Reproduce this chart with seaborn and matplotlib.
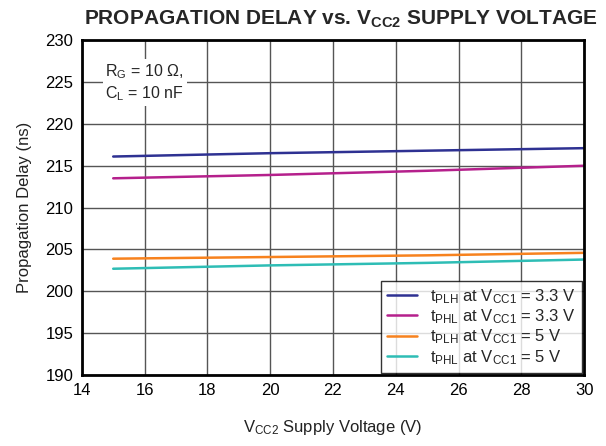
import matplotlib
matplotlib.use("Agg")
import matplotlib.pyplot as plt
import seaborn as sns
import pandas as pd

vcc2 = [15, 20, 25, 30]
tplh_33 = [216.1, 216.5, 216.8, 217.1]
tphl_33 = [213.5, 213.9, 214.4, 215.0]
tplh_5 = [203.9, 204.1, 204.3, 204.6]
tphl_5 = [202.7, 203.1, 203.4, 203.8]
labels = [r"t$_\mathregular{PLH}$ at V$_\mathregular{CC1}$ = 3.3 V",
          r"t$_\mathregular{PHL}$ at V$_\mathregular{CC1}$ = 3.3 V",
          r"t$_\mathregular{PLH}$ at V$_\mathregular{CC1}$ = 5 V",
          r"t$_\mathregular{PHL}$ at V$_\mathregular{CC1}$ = 5 V"]
colors = ["#2E3192", "#B5208C", "#F7821E", "#2EBDB5"]
xticks = [14, 16, 18, 20, 22, 24, 26, 28, 30]
yticks = [190, 195, 200, 205, 210, 215, 220, 225, 230]

rows = []
for lab, vals in zip(labels, [tplh_33, tphl_33, tplh_5, tphl_5]):
    for x, y in zip(vcc2, vals):
        rows.append({"x": x, "y": y, "series": lab})
df = pd.DataFrame(rows)

sns.set_theme(style="white")
plt.rcParams['font.family'] = ['Liberation Sans', 'DejaVu Sans']
plt.rcParams['mathtext.fontset'] = 'custom'
plt.rcParams['mathtext.rm'] = 'Liberation Sans'
plt.rcParams['mathtext.it'] = 'Liberation Sans'
plt.rcParams['mathtext.bf'] = 'Liberation Sans:bold'

fig = plt.figure(figsize=(6.06, 4.46), dpi=100)
ax = fig.add_axes([0.135, 0.159, 0.829, 0.751])
sns.lineplot(data=df, x="x", y="y", hue="series", palette=colors, ax=ax, linewidth=1.8, legend=True)

ax.set_xlim(14, 30)
ax.set_ylim(190, 230)
ax.set_xticks(xticks)
ax.set_yticks(yticks)
ax.tick_params(labelsize=12, length=0, pad=6, colors="black")
ax.grid(True, color="#555555", linewidth=1.0)
ax.set_axisbelow(True)
for s in ax.spines.values():
    s.set_color("black")
    s.set_linewidth(2)

ax.set_xlabel(r"V$_\mathregular{CC2}$ Supply Voltage (V)", fontsize=12, color="#222222", labelpad=14)
ax.set_ylabel("Propagation Delay (ns)", fontsize=12, color="#222222", labelpad=10)
fig.text(0.562, 0.957, r"PROPAGATION DELAY vs. V$_\mathbf{CC2}$ SUPPLY VOLTAGE",
         ha="center", va="center", fontsize=15, fontweight="bold")

ax.text(14.75, 227.4, "R$_\\mathregular{G}$ = 10 Ω,\nC$_\\mathregular{L}$ = 10 nF", fontsize=11.5,
        va="top", ha="left", linespacing=1.25,
        bbox=dict(facecolor="white", edgecolor="none", pad=2))

leg = ax.legend(loc="lower right", fontsize=12, frameon=True, fancybox=False,
                edgecolor="black", borderaxespad=0.15, handlelength=1.8,
                labelspacing=0.1, borderpad=0.35, handletextpad=0.8)
leg.get_frame().set_linewidth(1.0)
leg.set_title(None)

fig.savefig("out.png", dpi=100)
